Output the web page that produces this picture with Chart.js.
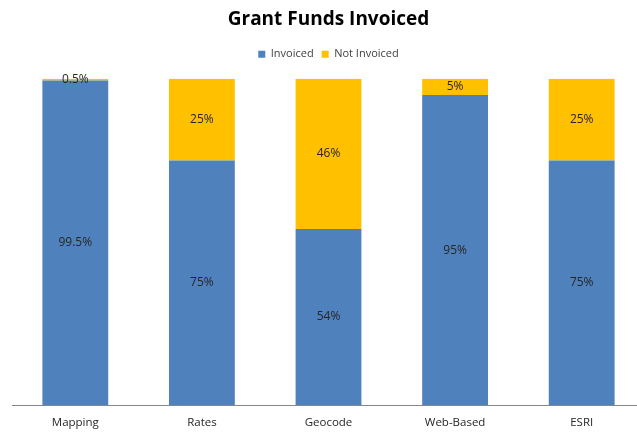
<!DOCTYPE html>
<html>
<head>
<meta charset="utf-8">
<script src="https://cdn.jsdelivr.net/npm/chart.js@4"></script>
<style>
  html, body { margin: 0; padding: 0; background: #fff; overflow: hidden; }
  #wrap { width: 645px; height: 433px; }
</style>
</head>
<body>
<div id="wrap"><canvas id="grantChart"></canvas></div>
<script>
const categories = ['Mapping', 'Rates', 'Geocode', 'Web-Based', 'ESRI'];
const invoiced = [99.5, 75, 54, 95, 75];
const notInvoiced = [0.5, 25, 46, 5, 25];

// draws the % label in the middle of each segment
const segmentLabels = {
    id: 'segmentLabels',
    afterDatasetsDraw(chart) {
        const ctx = chart.ctx;
        ctx.save();
        ctx.font = '12px "Open Sans", sans-serif';
        ctx.fillStyle = '#262626';
        ctx.textAlign = 'center';
        ctx.textBaseline = 'middle';
        chart.data.datasets.forEach((ds, i) => {
            chart.getDatasetMeta(i).data.forEach((bar, j) => {
                const mid = (bar.y + bar.base) / 2;
                ctx.fillText(ds.data[j] + '%', bar.x, mid);
            });
        });
        ctx.restore();
    }
};

// extra gap between the legend and the bars
const legendGap = {
    id: 'legendGap',
    afterInit(chart) {
        const fit = chart.legend.fit;
        chart.legend.fit = function () {
            fit.call(this);
            this.height += 9;
        };
    }
};

new Chart(document.getElementById('grantChart').getContext('2d'), {
    type: 'bar',
    data: {
        labels: categories,
        datasets: [
            { label: 'Invoiced', data: invoiced, backgroundColor: '#4F81BD' },
            { label: 'Not Invoiced', data: notInvoiced, backgroundColor: '#FFC000' }
        ]
    },
    options: {
        responsive: true,
        maintainAspectRatio: false,
        animation: false,
        layout: { padding: { left: 12, right: 0, top: 0, bottom: -8 } },
        datasets: { bar: { barPercentage: 1, categoryPercentage: 0.52 } },
        plugins: {
            title: {
                display: true,
                text: 'Grant Funds Invoiced',
                color: '#000',
                font: { family: '"Open Sans", sans-serif', size: 19, weight: 'bold' },
                padding: { top: 8, bottom: 10 }
            },
            legend: {
                position: 'top',
                labels: {
                    boxWidth: 7, boxHeight: 7, color: '#404040',
                    font: { family: '"Open Sans", sans-serif', size: 11 },
                    padding: 8
                }
            },
            tooltip: { enabled: false }
        },
        scales: {
            x: {
                stacked: true,
                grid: { display: false, drawTicks: false },
                border: { display: true, color: '#868686', width: 1 },
                ticks: { color: '#262626', padding: 11, font: { family: '"Open Sans", sans-serif', size: 11.5 } }
            },
            y: {
                stacked: true,
                min: 0, max: 100,
                display: false
            }
        }
    },
    plugins: [segmentLabels, legendGap]
});
</script>
</body>
</html>
